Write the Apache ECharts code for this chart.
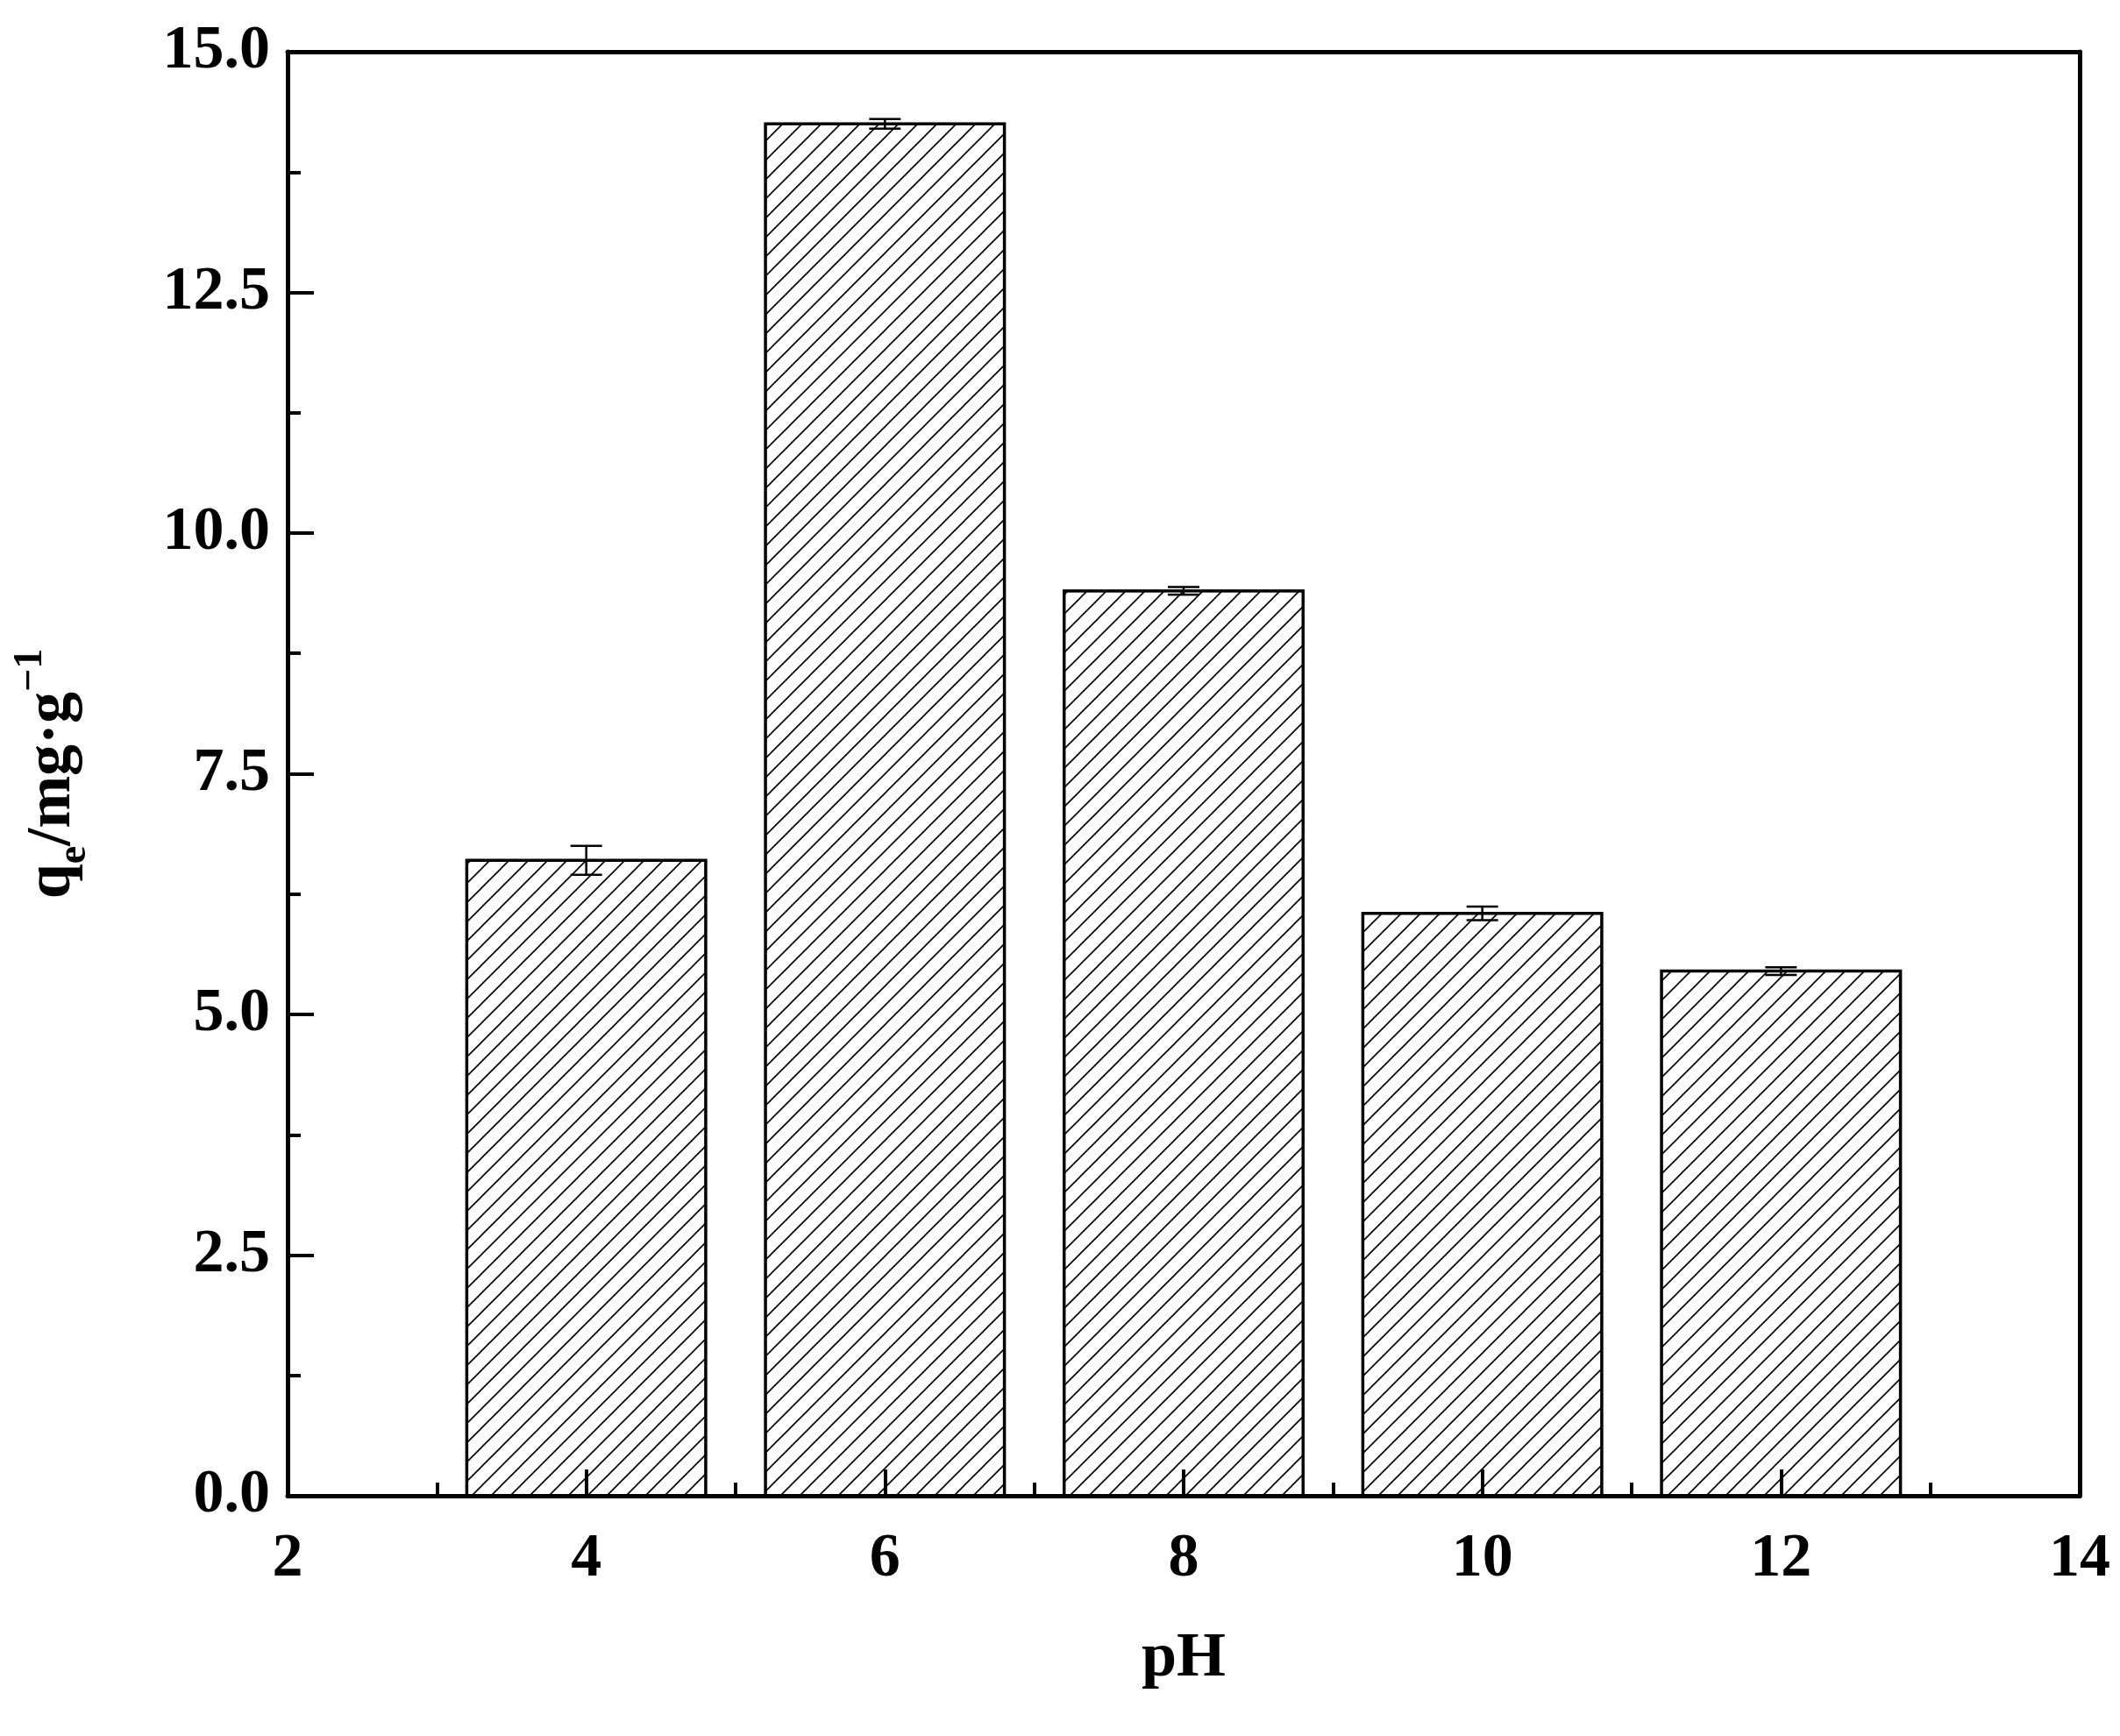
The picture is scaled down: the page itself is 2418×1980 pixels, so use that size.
<!DOCTYPE html>
<html>
<head>
<meta charset="utf-8">
<title>qe vs pH</title>
<script src="https://cdn.jsdelivr.net/npm/echarts@6/dist/echarts.min.js"></script>
<style>
  html, body { margin: 0; padding: 0; background: #fff; }
  #chart { width: 2418px; height: 1980px; }
</style>
</head>
<body>
<div id="chart"></div>
<script>
// data
var phValues = [4, 6, 8, 10, 12];
var qeValues = [6.6, 14.25, 9.4, 6.05, 5.45];
var qeErrors = [0.15, 0.05, 0.04, 0.07, 0.04];
var barHalfWidth = 0.8;

// hatch pattern
function makeHatch() {
  var c = document.createElement('canvas');
  c.width = 22; c.height = 22;
  var g = c.getContext('2d');
  g.strokeStyle = '#000';
  g.lineWidth = 1.6;
  g.beginPath();
  g.moveTo(-2, 24); g.lineTo(24, -2);
  g.moveTo(-13, 13); g.lineTo(13, -13);
  g.moveTo(9, 35); g.lineTo(35, 9);
  g.stroke();
  return c;
}
var hatch = makeHatch();

var font = '"Liberation Serif", "Times New Roman", serif';
var chart = echarts.init(document.getElementById('chart'));

var barData = [], errData = [];
for (var i = 0; i < phValues.length; i++) {
  barData.push([phValues[i], qeValues[i]]);
  errData.push([phValues[i], qeValues[i] - qeErrors[i], qeValues[i] + qeErrors[i]]);
}

var axisLineStyle = { color: '#000', width: 5 };

var option = {
  animation: false,
  backgroundColor: '#fff',
  grid: { left: 328, right: 46, top: 59, bottom: 274 },
  xAxis: [{
    type: 'value', min: 2, max: 14, interval: 2,
    axisLine: { show: true, onZero: false, lineStyle: axisLineStyle },
    axisTick: { show: true, inside: true, length: 30, lineStyle: { width: 4, color: '#000' } },
    minorTick: { show: true, splitNumber: 2, length: 15, lineStyle: { width: 4, color: '#000' } },
    splitLine: { show: false },
    axisLabel: { color: '#000', fontFamily: font, fontWeight: 'bold', fontSize: 70, margin: 38 },
    name: 'pH', nameLocation: 'middle', nameGap: 150,
    nameTextStyle: { color: '#000', fontFamily: font, fontWeight: 'bold', fontSize: 72 }
  }, {
    type: 'value', min: 2, max: 14, position: 'top',
    axisLine: { show: true, onZero: false, lineStyle: axisLineStyle },
    axisTick: { show: false }, axisLabel: { show: false }, splitLine: { show: false }
  }],
  yAxis: [{
    type: 'value', min: 0, max: 15, interval: 2.5,
    axisLine: { show: true, onZero: false, lineStyle: axisLineStyle },
    axisTick: { show: true, inside: true, length: 30, lineStyle: { width: 4, color: '#000' } },
    minorTick: { show: true, splitNumber: 2, length: 15, lineStyle: { width: 4, color: '#000' } },
    splitLine: { show: false },
    axisLabel: { color: '#000', fontFamily: font, fontWeight: 'bold', fontSize: 70, margin: 20,
      formatter: function (v) { return v.toFixed(1); } },
    name: '{b|q}{s|e}{b|/mg·g}{p|−1}', nameLocation: 'middle', nameGap: 220,
    nameTextStyle: {
      rich: {
        b: { fontFamily: font, fontWeight: 'bold', fontSize: 72, lineHeight: 96, color: '#000', verticalAlign: 'middle' },
        s: { fontFamily: font, fontWeight: 'bold', fontSize: 46, lineHeight: 46, color: '#000', verticalAlign: 'bottom' },
        p: { fontFamily: font, fontWeight: 'bold', fontSize: 46, lineHeight: 46, color: '#000', verticalAlign: 'top' }
      }
    }
  }, {
    type: 'value', min: 0, max: 15, position: 'right',
    axisLine: { show: true, onZero: false, lineStyle: axisLineStyle },
    axisTick: { show: false }, axisLabel: { show: false }, splitLine: { show: false }
  }],
  series: [{
    type: 'custom',
    data: barData,
    renderItem: function (params, api) {
      var p0 = api.coord([api.value(0) - barHalfWidth, api.value(1)]);
      var p1 = api.coord([api.value(0) + barHalfWidth, 0]);
      return {
        type: 'rect',
        shape: { x: p0[0], y: p0[1], width: p1[0] - p0[0], height: p1[1] - p0[1] },
        style: { fill: { image: hatch, repeat: 'repeat' }, stroke: '#000', lineWidth: 3.5 }
      };
    }
  }, {
    type: 'custom',
    data: errData,
    z: 3,
    renderItem: function (params, api) {
      var lo = api.coord([api.value(0), api.value(1)]);
      var hi = api.coord([api.value(0), api.value(2)]);
      var w = 18;
      return {
        type: 'group',
        children: [
          { type: 'line', shape: { x1: lo[0], y1: lo[1], x2: hi[0], y2: hi[1] }, style: { stroke: '#000', lineWidth: 2.5 } },
          { type: 'line', shape: { x1: lo[0] - w, y1: lo[1], x2: lo[0] + w, y2: lo[1] }, style: { stroke: '#000', lineWidth: 2.5 } },
          { type: 'line', shape: { x1: hi[0] - w, y1: hi[1], x2: hi[0] + w, y2: hi[1] }, style: { stroke: '#000', lineWidth: 2.5 } }
        ]
      };
    }
  }]
};
chart.setOption(option);
</script>
</body>
</html>
